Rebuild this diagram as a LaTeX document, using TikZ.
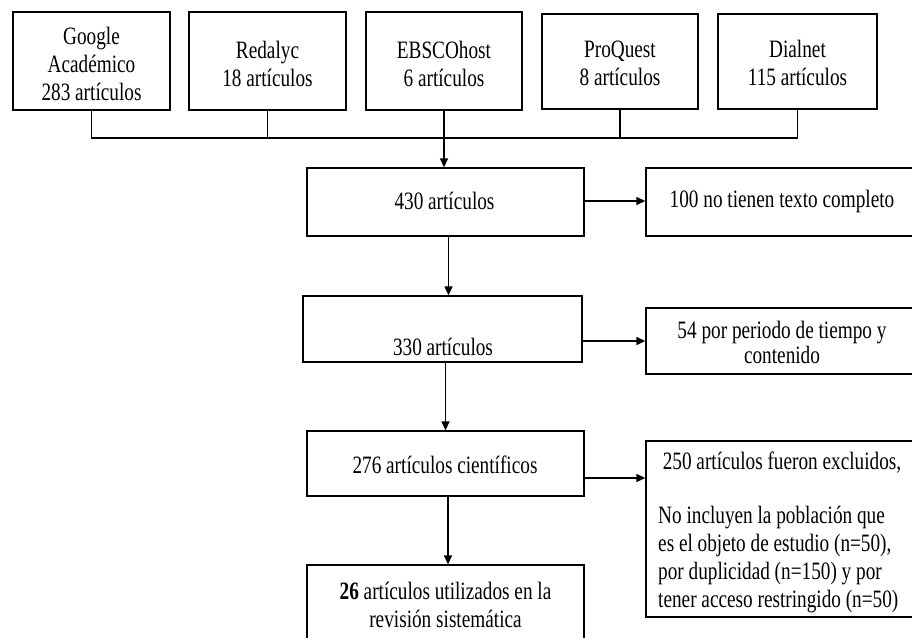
\documentclass[tikz,border=0pt]{standalone}
\usepackage{fontspec}
\setmainfont{Liberation Serif}[FakeStretch=0.77]
\usetikzlibrary{arrows.meta}
\begin{document}
\begin{tikzpicture}[x=1pt,y=-1pt,
  box/.style={draw, line width=1.3pt, inner sep=0pt, align=center, font=\fontsize{25}{28}\selectfont},
  txt/.style={align=center, inner sep=0pt, font=\fontsize{25}{28}\selectfont},
  conn/.style={line width=1.3pt},
  arr/.style={line width=1.3pt, -{Triangle[length=9pt,width=8pt]}}]
\useasboundingbox (0,0) rectangle (912,637);
\clip (0,0) rectangle (912,637);
% top source boxes
\node[box, minimum width=157pt, minimum height=98pt] (g) at (91.5,61) {};
\node[txt] (gt) at (91.5,63.5) {Google\\Académico\\283 artículos};
\node[box, minimum width=157pt, minimum height=98pt] (r) at (267.5,61) {};
\node[txt] (rt) at (267.5,63.5) {Redalyc\\18 artículos};
\node[box, minimum width=156pt, minimum height=98pt] (e) at (444,61) {};
\node[txt] (et) at (444,63.5) {EBSCOhost\\6 artículos};
\node[box, minimum width=156pt, minimum height=95pt] (p) at (620,61.5) {};
\node[txt] (pt) at (620,63) {ProQuest\\8 artículos};
\node[box, minimum width=159pt, minimum height=95pt] (d) at (797.5,61.5) {};
\node[txt] (dt) at (797.5,63) {Dialnet\\115 artículos};
\coordinate (bus) at (0,138);
% main column
\node[box, minimum width=277pt, minimum height=68pt] (a430) at (445.5,202) {};
\node[txt] (a430t) at (444.5,201) {430 artículos};
\node[box, minimum width=279pt, minimum height=66pt] (b330) at (442.5,329) {};
\node[txt] (b330t) at (443,347) {330 artículos};
\node[box, minimum width=277pt, minimum height=65pt] (c276) at (445.5,463.5) {};
\node[txt] (c276t) at (445,465) {276 artículos científicos};
\node[box, minimum width=277pt, minimum height=95pt] (d26) at (445.5,612.5) {};
\node[txt] (d26t) at (445.5,605) {\textbf{26} artículos utilizados en la\\revisión sistemática};
% exclusion boxes
\node[box, minimum width=272pt, minimum height=68pt] (x100) at (782,202) {};
\node[txt] (x100t) at (782,201) {100 no tienen texto completo};
\node[box, minimum width=272pt, minimum height=66pt] (x54) at (782,341) {};
\node[txt, font=\fontsize{25}{25.5}\selectfont] (x54t) at (782,342.5) {54 por periodo de tiempo y\\contenido};
\node[box, minimum width=272pt, minimum height=176pt] (x250) at (782,529) {};
\node[txt] (x250h) at (782,463) {250 artículos fueron excluidos,};
\node[txt, align=left, anchor=west] (x250t) at (658,559) {No incluyen la población que\\es el objeto de estudio (n=50),\\por duplicidad (n=150) y por\\tener acceso restringido (n=50)};
% connectors
\draw[conn] (g.south) |- (d.south |- bus) -- (d.south);
\draw[conn] (r.south) -- (r.south |- bus);
\draw[conn] (p.south) -- (p.south |- bus);
\draw[arr] (e.south) -- (e.south |- a430.north);
\draw[arr] ([yshift=1pt]a430.east) -- ([yshift=1pt]x100.west);
\draw[arr] ([xshift=3pt]a430.south) -- ([xshift=3pt]a430.south |- b330.north);
\draw[arr] (b330.east |- x54.west) -- (x54.west);
\draw[arr] (c276.north |- b330.south) -- (c276.north);
\draw[arr] ([yshift=-14.5pt]c276.east) coordinate (t) -- (t -| x250.west);
\draw[arr] ([xshift=2.5pt]c276.south) -- ([xshift=2.5pt]d26.north);
\end{tikzpicture}
\end{document}
